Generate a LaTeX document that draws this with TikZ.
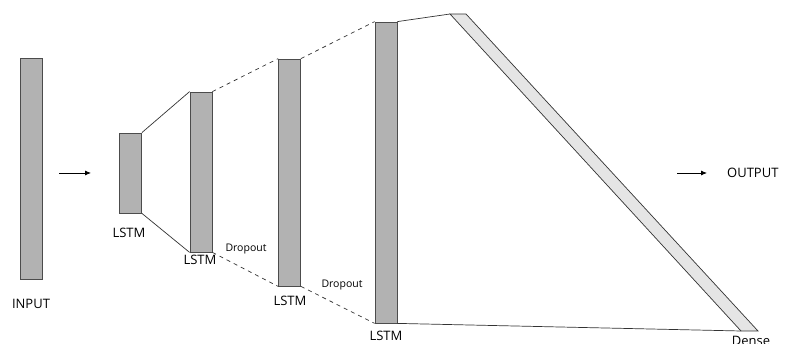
\documentclass[tikz,border=0pt]{standalone}
\usepackage{fontspec}
\setmainfont{Open Sans}
\usetikzlibrary{positioning,arrows.meta}

\begin{document}
\begin{tikzpicture}[
  x=1pt, y=-1pt,
  font=\fontsize{13}{15}\selectfont,
  bar/.style={draw=black!70, fill=gray!60, line width=0.8pt, inner sep=0pt,
              minimum width=22pt},
  tag/.style={inner sep=0pt},
  small/.style={tag, font=\fontsize{10.5}{12}\selectfont},
  conn/.style={black!80, line width=0.7pt},
  drop/.style={conn, dash pattern=on 4pt off 4pt},
  arr/.style={-{Latex[length=6pt,width=5pt]}, black, line width=0.8pt},
]
\useasboundingbox (0,0) rectangle (785,344);
% Layers
\node[bar, minimum height=221pt] (inp) at (31,168.5) {};
\node[bar, minimum height=80pt]  (l1)  at (130.5,173) {};
\node[bar, minimum height=160pt] (l2)  at (201,172) {};
\node[bar, minimum height=227pt] (l3)  at (289.5,172.5) {};
\node[bar, minimum height=301pt] (l4)  at (386,172.5) {};
% Dense layer
\coordinate (dtl) at (450,14);  \coordinate (dtr) at (466,14);
\coordinate (dbr) at (758,331); \coordinate (dbl) at (741,331);
\draw[conn, fill=gray!20] (dtl) -- (dtr) -- (dbr) -- (dbl) -- cycle;
% Labels
\node[tag] (tin) at (31,304)   {INPUT};
\node[tag] (t1)  at (129,233)  {LSTM};
\node[tag] (t2)  at (200,260)  {LSTM};
\node[tag] (t3)  at (290,301)  {LSTM};
\node[tag] (t4)  at (386,336)  {LSTM};
\node[tag] (td)  at (751,340.5)  {Dense};
\node[small] (d1) at (246,249) {Dropout};
\node[small] (d2) at (342,285) {Dropout};
\node[tag, anchor=west] (tout) at (727,172.5) {OUTPUT};
% Arrows
\coordinate (ia) at (59,173);  \coordinate (ib) at (91,173);
\coordinate (oa) at (677,173); \coordinate (ob) at (707,173);
\draw[arr] (ia) -- (ib);
\draw[arr] (oa) -- (ob);
% Edges
\draw[conn] (l1.north east) -- (l2.north west);
\draw[conn] (l1.south east) -- (l2.south west);
\draw[drop] (l2.north east) -- (l3.north west);
\draw[drop] (l2.south east) -- (l3.south west);
\draw[drop] (l3.north east) -- (l4.north west);
\draw[drop] (l3.south east) -- (l4.south west);
\draw[conn] (l4.north east) -- (dtl);
\draw[conn] (l4.south east) -- (dbl);
\end{tikzpicture}
\end{document}
